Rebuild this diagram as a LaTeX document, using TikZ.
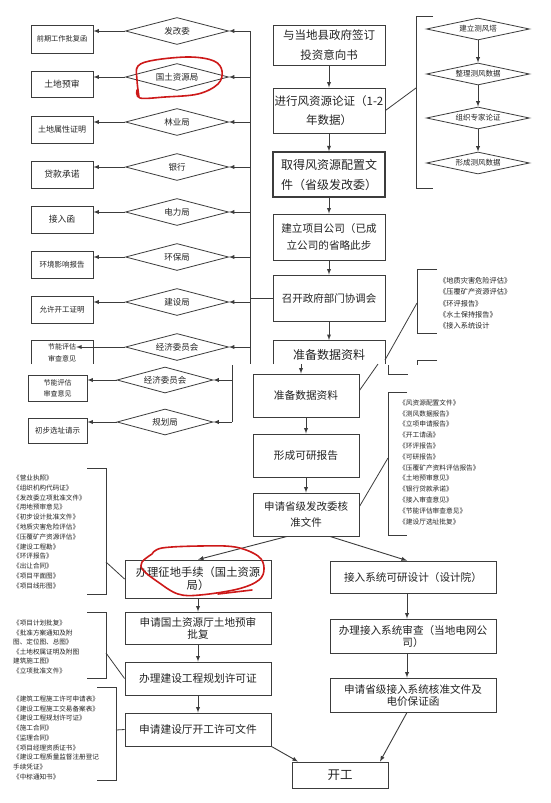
\documentclass[tikz,border=0pt]{standalone}
\usepackage{fontspec}
\setmainfont{Noto Sans CJK SC}
\usepackage{tikz}
\usetikzlibrary{shapes,arrows,positioning}
\definecolor{lineg}{RGB}{60, 60, 60}
\definecolor{textg}{RGB}{35, 35, 35}
\definecolor{markred}{RGB}{205, 25, 25}
\newcommand{\setfs}[2]{\fontsize{#1}{#2}\selectfont}

\begin{document}
\begin{tikzpicture}[x=1pt, y=-1pt,
    box/.style={rectangle, draw=lineg, line width=0.9pt, align=center, inner sep=0pt, text=textg},
    dia/.style={diamond, draw=lineg, line width=0.8pt, inner sep=0pt, aspect=4, text=textg},
    lst/.style={anchor=north west, align=left, inner sep=0pt, text=textg},
    arrow/.style={->, >=latex, line width=0.9pt, lineg},
    link/.style={line width=0.8pt, lineg},
    ink/.style={markred, line width=1.6pt, line cap=round, line join=round}
]
\fill[white] (0,0) rectangle (550,803);
\useasboundingbox (0,0) rectangle (550,803);

% Main column (upper part)
\node[box, minimum width=112pt, minimum height=40pt, font=\setfs{11.5}{20}] (yx) at (329,45) {与当地县政府签订\\投资意向书};
\node[box, minimum width=112pt, minimum height=45pt, font=\setfs{11.5}{19}] (lz) at (329,110.5) {进行风资源论证（1-2\\年数据）};
\node[box, line width=1.4pt, minimum width=112pt, minimum height=45pt, font=\setfs{12}{20}] (pz) at (329,174.5) {取得风资源配置文\\件（省级发改委）};
\node[box, minimum width=112pt, minimum height=46pt, font=\setfs{10.6}{17}] (gs) at (329,237) {建立项目公司（已成\\立公司的省略此步};
\node[box, minimum width=112pt, minimum height=46pt, font=\setfs{10.5}{14}] (xt) at (329,298) {召开政府部门协调会};
\node[font=\setfs{12}{14}, text=textg, inner sep=0pt] (zb1) at (329,355) {准备数据资料};
\draw[link] (273,364) -- (273,340) -- (385,340) -- (385,364);
\coordinate (zb1top) at (329,340);

\draw[arrow] (yx) -- (lz);
\draw[arrow] (lz) -- (pz);
\draw[arrow] (pz) -- (gs);
\draw[arrow] (gs) -- (xt);
\draw[arrow] (xt.south) -- (zb1top);

% Departments (left, upper part)
\coordinate (vtop) at (250,31);
\coordinate (vbot) at (250,364);
\draw[link] (vtop) -- (vbot);
\draw[link] (xt.west) -- (xt.west -| vtop);

\node[dia, minimum width=103pt, minimum height=27pt, font=\setfs{8.5}{10}] (fgw) at (177,31) {发改委};
\node[dia, minimum width=103pt, minimum height=27pt, font=\setfs{8.5}{10}] (gtj) at (177,77) {国土资源局};
\node[dia, minimum width=103pt, minimum height=27pt, font=\setfs{8.5}{10}] (lyj) at (177,122) {林业局};
\node[dia, minimum width=103pt, minimum height=27pt, font=\setfs{8.5}{10}] (yh) at (177,167) {银行};
\node[dia, minimum width=103pt, minimum height=27pt, font=\setfs{8.5}{10}] (dlj) at (177,212) {电力局};
\node[dia, minimum width=103pt, minimum height=27pt, font=\setfs{8.5}{10}] (hbj) at (177,257) {环保局};
\node[dia, minimum width=103pt, minimum height=27pt, font=\setfs{8.5}{10}] (jsj) at (177,302) {建设局};
\node[dia, minimum width=103pt, minimum height=27pt, font=\setfs{8.5}{10}] (jwh) at (177,347) {经济委员会};

\node[box, minimum width=62pt, minimum height=28pt, font=\setfs{7.2}{9}] (qq) at (62,39) {前期工作批复函};
\node[box, minimum width=62pt, minimum height=26pt, font=\setfs{8.8}{10}] (tdys) at (62,84) {土地预审};
\node[box, minimum width=62pt, minimum height=27pt, font=\setfs{8}{10}] (tdsx) at (62,129.5) {土地属性证明};
\node[box, minimum width=62pt, minimum height=27pt, font=\setfs{8.8}{10}] (dkcn) at (62,174.5) {贷款承诺};
\node[box, minimum width=62pt, minimum height=27pt, font=\setfs{8.8}{10}] (jrh) at (62,219.5) {接入函};
\node[box, minimum width=62pt, minimum height=27pt, font=\setfs{7.5}{10}] (hjbg) at (62,264.5) {环境影响报告};
\node[box, minimum width=62pt, minimum height=27pt, font=\setfs{7.5}{10}] (kgzm) at (62,309.5) {允许开工证明};
\node[font=\setfs{7}{12}, text=textg, align=center, inner sep=0pt] (jn1) at (62,353) {节能评估\\审查意见};
\draw[link] (31,364) -- (31,340) -- (93,340) -- (93,364);

\draw[arrow] (fgw.east -| vtop) -- (fgw.east);
\draw[arrow] (gtj.east -| vtop) -- (gtj.east);
\draw[arrow] (lyj.east -| vtop) -- (lyj.east);
\draw[arrow] (yh.east -| vtop) -- (yh.east);
\draw[arrow] (dlj.east -| vtop) -- (dlj.east);
\draw[arrow] (hbj.east -| vtop) -- (hbj.east);
\draw[arrow] (jsj.east -| vtop) -- (jsj.east);
\draw[arrow] (jwh.east -| vtop) -- (jwh.east);

\draw[arrow] (fgw.west) -- (fgw.west -| qq.east);
\draw[arrow] (gtj.west) -- (gtj.west -| tdys.east);
\draw[arrow] (lyj.west) -- (lyj.west -| tdsx.east);
\draw[arrow] (yh.west) -- (yh.west -| dkcn.east);
\draw[arrow] (dlj.west) -- (dlj.west -| jrh.east);
\draw[arrow] (hbj.west) -- (hbj.west -| hjbg.east);
\draw[arrow] (jsj.west) -- (jsj.west -| kgzm.east);
\draw[arrow] (jwh.west) -- (jwh.west -| jn1.east);

% Wind measurement (right, top)
\node[dia, minimum width=103pt, minimum height=22pt, font=\setfs{7.5}{9}] (cft) at (478,29) {建立测风塔};
\node[dia, minimum width=103pt, minimum height=22pt, font=\setfs{7.5}{9}] (zlsj) at (478,74) {整理测风数据};
\node[dia, minimum width=103pt, minimum height=22pt, font=\setfs{7.5}{9}] (zjlz) at (478,118) {组织专家论证};
\node[dia, minimum width=103pt, minimum height=22pt, font=\setfs{7.5}{9}] (xcsj) at (478,163) {形成测风数据};
\draw[arrow] (cft) -- (zlsj);
\draw[arrow] (zlsj) -- (zjlz);
\draw[arrow] (zjlz) -- (xcsj);
\draw[link] (433,16) -- (416,16) -- (416,188) -- (433,188);
\coordinate (brA) at (416,88);
\draw[link] (lz.east) -- (brA);

% Reports (right, upper part)
\node[lst, font=\setfs{7.2}{11.4}] (pg1) at (439,277) {《地质灾害危险评估》\\《压覆矿产资源评估》\\《环评报告》\\《水土保持报告》\\《接入系统设计};
\draw[link] (437,269) -- (417,269) -- (417,333) -- (437,333);
\coordinate (brB) at (417,303);
\coordinate (zb1r) at (385,360);
\draw[link] (brB) -- (zb1r);
\draw[link] (437,360) -- (417,360) -- (417,365);
\draw[link] (388,365) -- (388,374) -- (408,374);

% Main column (lower part)
\node[box, minimum width=106pt, minimum height=43pt, font=\setfs{10.7}{14}] (zb2) at (306,395.5) {准备数据资料};
\node[box, minimum width=106pt, minimum height=43pt, font=\setfs{10.7}{14}] (kyb) at (306,455.5) {形成可研报告};
\node[box, minimum width=106pt, minimum height=43pt, font=\setfs{10.5}{16}] (hz) at (306,514.5) {申请省级发改委核\\准文件};
\coordinate (cut) at (301,364);
\coordinate (zb2up) at (378,364);
\draw[arrow] (cut) -- (cut |- zb2.north);
\draw[arrow] (zb2) -- (kyb);
\draw[arrow] (kyb) -- (hz);
\draw[link] ([yshift=5pt]zb2.east) -- (zb2up);

\node[lst, font=\setfs{6.7}{10.8}] (pg2) at (399,399.5) {《风资源配置文件》\\《测风数据报告》\\《立项申请报告》\\《开工请函》\\《环评报告》\\《可研报告》\\《压覆矿产资料评估报告》\\《土地预审意见》\\《银行贷款承诺》\\《接入审查意见》\\《节能评估审查意见》\\《建设厅选址批复》};
\draw[link] (407,392) -- (388,392) -- (388,535) -- (407,535);
\coordinate (brC) at (388,458);
\draw[link] ([yshift=8pt]hz.east) -- (brC);

% Departments (left, lower part)
\coordinate (vtop2) at (232,365);
\coordinate (vbot2) at (232,422);
\draw[link] (vtop2) -- (vbot2);
\node[dia, minimum width=96pt, minimum height=26pt, font=\setfs{8.5}{10}] (jwh2) at (165,380) {经济委员会};
\node[dia, minimum width=96pt, minimum height=26pt, font=\setfs{8.5}{10}] (ghj) at (165,422) {规划局};
\node[box, minimum width=59pt, minimum height=26pt, font=\setfs{7}{11}] (jn2) at (57.5,388) {节能评估\\审查意见};
\node[box, minimum width=59pt, minimum height=25pt, font=\setfs{7.5}{10}] (xzqs) at (57.5,430.5) {初步选址请示};
\draw[arrow] (jwh2.east -| vtop2) -- (jwh2.east);
\draw[arrow] (ghj.east -| vtop2) -- (ghj.east);
\draw[arrow] (jwh2.west) -- (jwh2.west -| jn2.east);
\draw[arrow] (ghj.west) -- (ghj.west -| xzqs.east);

% Land and construction permits (left branch)
\node[box, minimum width=146pt, minimum height=38pt, font=\setfs{11.3}{13}] (zd) at (198,579) {办理征地手续（国土资源\\局）};
\node[box, minimum width=146pt, minimum height=32pt, font=\setfs{10.6}{12}] (ysp) at (198,628) {申请国土资源厅土地预审\\批复};
\node[box, minimum width=146pt, minimum height=33pt, font=\setfs{10.7}{12}] (ghxk) at (198,678.5) {办理建设工程规划许可证};
\node[box, minimum width=146pt, minimum height=33pt, font=\setfs{10.7}{12}] (kgxk) at (198,729.5) {申请建设厅开工许可文件};
\draw[arrow] ([xshift=-19pt]hz.south) -- (zd.north);
\draw[arrow] (zd) -- (ysp);
\draw[arrow] (ysp) -- (ghxk);
\draw[arrow] (ghxk) -- (kgxk);

\node[lst, font=\setfs{6.6}{9.8}] (pg3) at (13,474.7) {《营业执照》\\《组织机构代码证》\\《发改委立项批准文件》\\《用地预审意见》\\《初步设计批准文件》\\《地质灾害危险评估》\\《压覆矿产资源评估》\\《建设工程勘》\\《环评报告》\\《出让合同》\\《项目平面图》\\《项目线形图》};
\draw[link] (87,468) -- (106,468) -- (106,594) -- (87,594);
\coordinate (brD) at (106,562);
\draw[link] (brD) -- (zd.west);

\node[lst, font=\setfs{6.6}{9.6}] (pg4) at (13,619.7) {《项目计划批复》\\《批准方案通知及附\\图、定位图、总图》\\《土地权属证明及附图\\建筑施工图》\\《立项批准文件》};
\draw[link] (87,612) -- (106,612) -- (106,678) -- (87,678);
\coordinate (brE) at (106,653);
\draw[link] (brE) -- (ghxk.west);

\node[lst, font=\setfs{6.6}{9.75}] (pg5) at (13,695.7) {《建筑工程施工许可申请表》\\《建设工程施工交易备案表》\\《建设工程规划许可证》\\《施工合同》\\《监理合同》\\《项目经理资质证书》\\《建设工程质量监督注册登记\\手续凭证》\\《中标通知书》};
\draw[link] (97,687) -- (116,687) -- (116,780) -- (97,780);
\coordinate (brF) at (116,730);
\draw[link] (brF) -- (kgxk.west);

% Grid connection (right branch)
\node[box, minimum width=166pt, minimum height=32pt, font=\setfs{10.6}{12}] (jrsj) at (413,577) {接入系统可研设计（设计院）};
\node[box, minimum width=166pt, minimum height=34pt, font=\setfs{10.6}{12}] (jrsc) at (413,636) {办理接入系统审查（当地电网公\\司）};
\node[box, minimum width=166pt, minimum height=34pt, font=\setfs{10.6}{12}] (jrhz) at (413,695) {申请省级接入系统核准文件及\\电价保证函};
\node[box, minimum width=96pt, minimum height=26pt, font=\setfs{12.5}{14}] (kg) at (340,775) {开工};
\draw[arrow] ([xshift=24pt]hz.south) -- ([xshift=-6pt]jrsj.north);
\draw[arrow] ([xshift=-6pt]jrsj.south) -- ([xshift=-6pt]jrsc.north);
\draw[arrow] ([xshift=-6pt]jrsc.south) -- ([xshift=-6pt]jrhz.north);
\draw[arrow] ([xshift=-6pt]jrhz.south) -- ([xshift=40pt]kg.north);
\draw[arrow] (kgxk.south east) -- ([xshift=-42pt]kg.north);

% Red marks
\draw[ink] plot[smooth, tension=0.6] coordinates {(139,97) (137,80) (138,66) (155,60) (190,57) (214,61) (222,71) (218,84) (198,94) (165,97) (140,98) (137,90)};
\draw[ink] plot[smooth, tension=0.6] coordinates {(152,554) (162,548) (200,546) (235,547) (258,556) (264,568) (259,580) (238,589) (200,595) (178,594) (158,582) (143,570) (142,562) (152,554)};
\draw[ink] (218,594) -- (252,590);
\end{tikzpicture}
\end{document}
